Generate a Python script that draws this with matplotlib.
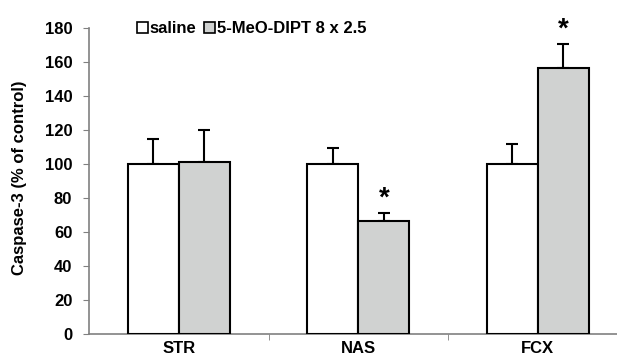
import numpy as np
import matplotlib.pyplot as plt
from matplotlib.patches import Patch

plt.rcParams['font.family'] = ['Liberation Sans', 'DejaVu Sans']
plt.rcParams['font.weight'] = 'bold'

regions = ['STR', 'NAS', 'FCX']
saline = [100, 100, 100]
saline_err = [15, 9.6, 12]
dipt = [101, 66.3, 156.3]
dipt_err = [19, 4.9, 14]
signif = [False, True, True]

gray = '#d0d2d1'

fig = plt.figure(figsize=(6.17, 3.6), dpi=100)
ax = fig.add_axes([89 / 617, 26 / 360, 538.5 / 617, 306 / 360])

x = np.arange(len(regions))
w = 0.285
ax.bar(x - w / 2, saline, w, color='white', edgecolor='black', linewidth=1.5, zorder=3)
ax.bar(x + w / 2, dipt, w, color=gray, edgecolor='black', linewidth=1.5, zorder=3)
ax.errorbar(x - w / 2, saline, yerr=[np.zeros(3), saline_err], fmt='none',
            ecolor='black', elinewidth=1.5, capsize=4, capthick=1.5, zorder=2)
ax.errorbar(x + w / 2, dipt, yerr=[np.zeros(3), dipt_err], fmt='none',
            ecolor='black', elinewidth=1.5, capsize=4, capthick=1.5, zorder=2)
for i in range(len(regions)):
    if signif[i]:
        ax.text(x[i] + w / 2, dipt[i] + dipt_err[i] + 1, '*', ha='center', va='bottom',
                fontsize=20, fontweight='bold')

ax.set_xlim(-0.5, 2.5)
ax.set_ylim(0, 180)
ax.set_yticks(np.arange(0, 181, 20))
ax.set_xticks(x)
ax.set_xticklabels(regions, fontsize=12, fontweight='bold')
ax.tick_params(axis='x', length=0, pad=5)
ax.set_xticks([0.5, 1.5], minor=True)
ax.tick_params(axis='x', which='minor', length=4, color='#808080')
ax.tick_params(axis='y', length=4, color='#808080', labelsize=12, pad=8)
for lab in ax.get_yticklabels():
    lab.set_fontweight('bold')
ax.set_ylabel('Caspase-3 (% of control)', fontsize=12, fontweight='bold')
ax.yaxis.set_label_coords(-(89 - 27) / 538.5, 0.51)

for s in ['top', 'right']:
    ax.spines[s].set_visible(False)
for s in ['left', 'bottom']:
    ax.spines[s].set_color('#808080')
    ax.spines[s].set_linewidth(1.2)

handles = [Patch(facecolor='white', edgecolor='black', linewidth=1.2, label='saline'),
           Patch(facecolor=gray, edgecolor='black', linewidth=1.2, label='5-MeO-DIPT 8 x 2.5')]
fig.legend(handles=handles, loc='upper left', bbox_to_anchor=(129 / 617, 1 - 13 / 360),
           ncol=2, frameon=False, handlelength=0.65, handleheight=0.65, handletextpad=0.1,
           columnspacing=0.45, borderpad=0, prop={'weight': 'bold', 'size': 12})

fig.savefig('out.png', dpi=100)
